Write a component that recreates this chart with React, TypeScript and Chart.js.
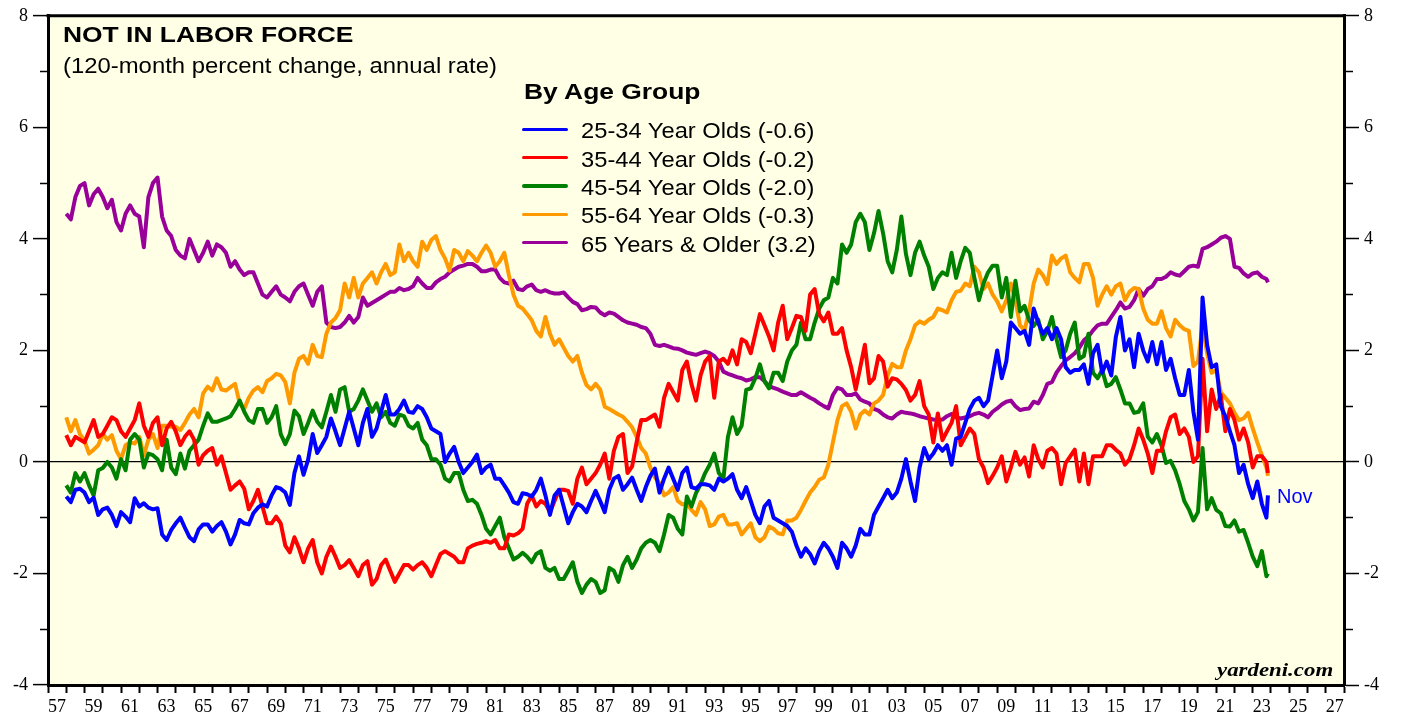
import { useEffect, useRef } from 'react';
import { Chart, registerables } from 'chart.js';

Chart.register(...registerables);

// Quarterly observations from Jan 1958, last point is Nov 2023
const FIRST_YEAR = 1958;
const QUARTER_COUNT = 264;
const DATES: number[] = [
  ...Array.from({ length: QUARTER_COUNT }, (_, i) => FIRST_YEAR + i / 4),
  2023 + 10 / 12,
];

const X_MIN = 1957;
const X_MAX = 2028;
const Y_MIN = -4;
const Y_MAX = 8;

const AGE_25_34 = [
  -0.62, -0.72, -0.5, -0.48, // 1958
  -0.55, -0.72, -0.64, -0.95,
  -0.85, -0.82, -0.95, -1.15, // 1960
  -0.9, -0.98, -1.08, -0.65,
  -0.8, -0.74, -0.82, -0.85,
  -0.83, -1.3, -1.4, -1.22,
  -1.1, -1.0, -1.18, -1.35,
  -1.42, -1.21, -1.12, -1.12, // 1965
  -1.25, -1.15, -1.08, -1.25,
  -1.48, -1.3, -1.04, -1.1,
  -1.12, -0.92, -0.82, -0.76,
  -0.8, -0.6, -0.45, -0.48,
  -0.55, -0.77, -0.2, 0.1, // 1970
  -0.23, 0.04, 0.5, 0.16,
  0.3, 0.45, 0.78, 0.55,
  0.3, 0.6, 0.9, 0.6,
  0.3, 0.7, 0.95, 0.45,
  0.6, 0.9, 1.2, 0.85, // 1975
  0.85, 0.95, 1.1, 0.9,
  0.88, 1.0, 0.95, 0.8,
  0.6, 0.55, 0.5, 0.0,
  0.15, 0.27, 0.0, -0.2,
  -0.1, 0.0, 0.13, -0.2, // 1980
  -0.1, -0.05, -0.3, -0.3,
  -0.42, -0.55, -0.72, -0.75,
  -0.56, -0.58, -0.62, -0.5,
  -0.3, -0.6, -0.95, -0.6,
  -0.5, -0.8, -1.1, -0.9, // 1985
  -0.75, -0.8, -0.9, -0.7,
  -0.52, -0.7, -0.9, -0.5,
  -0.3, -0.25, -0.5, -0.4,
  -0.28, -0.5, -0.7, -0.45,
  -0.25, -0.12, -0.55, -0.3, // 1990
  -0.1, -0.3, -0.5, -0.2,
  -0.1, -0.45, -0.48, -0.4,
  -0.4, -0.42, -0.5, -0.3,
  -0.35, -0.3, -0.22, -0.5,
  -0.65, -0.45, -0.7, -0.95, // 1995
  -1.1, -0.8, -0.7, -1.0,
  -1.05, -1.1, -1.15, -1.25,
  -1.5, -1.7, -1.55, -1.65,
  -1.82, -1.6, -1.45, -1.55,
  -1.7, -1.9, -1.45, -1.55, // 2000
  -1.7, -1.5, -1.2, -1.3,
  -1.3, -0.95, -0.8, -0.65,
  -0.5, -0.65, -0.55, -0.3,
  0.05, -0.35, -0.7, -0.1,
  0.25, 0.05, 0.15, 0.3, // 2005
  0.2, 0.3, -0.05, 0.42,
  0.45, 0.7, 0.95, 1.1,
  1.15, 1.0, 1.1, 1.55,
  2.0, 1.5, 1.8, 2.5,
  2.4, 2.3, 2.35, 2.1, // 2010
  2.75, 2.5, 2.3, 2.4,
  2.2, 2.4, 2.2, 1.7,
  1.6, 1.65, 1.65, 1.75,
  1.4, 1.95, 2.1, 1.6,
  1.8, 1.55, 2.24, 2.6, // 2015
  2.0, 2.2, 1.7, 2.3,
  2.0, 1.8, 2.15, 1.75,
  2.15, 1.65, 1.85, 1.5,
  1.2, 1.2, 1.65, 0.9,
  0.4, 2.95, 2.1, 1.7, // 2020
  1.75, 1.0, 0.82, 0.55,
  0.3, -0.2, -0.05, -0.4,
  -0.65, -0.35, -0.75, -1.0,
  -0.6, // Nov 2023
];

const AGE_35_44 = [
  0.48, 0.3, 0.45, 0.4, // 1958
  0.35, 0.55, 0.75, 0.45,
  0.5, 0.65, 0.8, 0.75, // 1960
  0.55, 0.45, 0.6, 0.75,
  1.05, 0.65, 0.45, 0.7,
  0.8, 0.3, 0.6, 0.72,
  0.55, 0.3, 0.45, 0.55,
  0.4, -0.05, 0.12, 0.2, // 1965
  0.25, -0.05, 0.1, -0.2,
  -0.5, -0.42, -0.35, -0.48,
  -0.85, -0.7, -0.5, -0.8,
  -1.1, -1.1, -0.98, -1.1,
  -1.5, -1.62, -1.35, -1.55, // 1970
  -1.8, -1.55, -1.4, -1.8,
  -2.0, -1.7, -1.52, -1.7,
  -1.9, -1.85, -1.76, -1.9,
  -2.05, -1.85, -1.78, -2.2,
  -2.1, -1.85, -1.75, -1.95, // 1975
  -2.15, -2.0, -1.85, -1.85,
  -1.93, -1.85, -1.8, -1.9,
  -2.05, -1.85, -1.65, -1.6,
  -1.65, -1.7, -1.8, -1.8,
  -1.55, -1.5, -1.47, -1.45, // 1980
  -1.42, -1.45, -1.4, -1.55,
  -1.55, -1.3, -1.32, -1.28,
  -1.2, -0.75, -0.6, -0.8,
  -0.7, -0.75, -0.9, -0.7,
  -0.5, -0.5, -0.52, -0.75, // 1985
  -0.3, -0.1, -0.4, -0.3,
  -0.2, -0.05, 0.15, -0.3,
  0.2, 0.45, 0.5, -0.2,
  -0.08, 0.36, 0.75, 0.75,
  0.8, 0.85, 0.63, 1.15, // 1990
  1.4, 1.25, 1.1, 1.65,
  1.8, 1.4, 1.1, 1.55,
  1.8, 1.9, 1.15, 1.8,
  1.85, 1.76, 2.0, 1.75,
  2.2, 2.15, 1.95, 2.3, // 1995
  2.65, 2.45, 2.25, 2.0,
  2.5, 2.8, 2.2, 2.4,
  2.62, 2.6, 2.35, 3.0,
  3.1, 2.65, 2.52, 2.68,
  2.3, 2.3, 2.4, 2.0, // 2000
  1.7, 1.3, 1.7, 2.1,
  1.41, 1.5, 1.9, 1.8,
  1.35, 1.5, 1.48, 1.4,
  1.29, 1.1, 1.2, 1.45,
  1.0, 0.85, 0.35, 0.87, // 2005
  0.39, 0.55, 0.7, 1.0,
  0.3, 0.45, 0.6, 0.5,
  0.05, -0.1, -0.38, -0.25,
  -0.1, 0.1, -0.35, -0.1,
  0.18, -0.05, 0.08, -0.26, // 2010
  0.3, 0.05, -0.1, 0.2,
  0.25, 0.15, -0.4, -0.02,
  0.1, 0.22, -0.35, 0.15,
  -0.4, 0.1, 0.1, 0.1,
  0.3, 0.3, 0.22, 0.15, // 2015
  -0.05, 0.05, 0.3, 0.6,
  0.4, 0.15, -0.2, 0.2,
  0.2, 0.55, 0.8, 0.85,
  0.5, 0.6, 0.45, 0.0,
  0.1, 1.85, 0.55, 1.3, // 2020
  0.95, 1.2, 0.55, 0.95,
  0.75, 0.4, 0.6, 0.35,
  -0.1, 0.1, 0.1, 0.0,
  -0.2, // Nov 2023
];

const AGE_45_54 = [
  -0.42, -0.55, -0.2, -0.35, // 1958
  -0.2, -0.42, -0.6, -0.15,
  -0.11, 0.0, -0.1, -0.3, // 1960
  0.05, -0.15, 0.4, 0.5,
  0.4, -0.1, 0.15, 0.12,
  0.05, -0.15, 0.4, -0.1,
  -0.22, 0.15, -0.12, 0.2,
  0.3, 0.4, 0.65, 0.87, // 1965
  0.72, 0.72, 0.75, 0.78,
  0.82, 0.95, 1.1, 0.9,
  0.75, 0.7, 0.95, 0.95,
  0.7, 0.8, 1.0, 0.5,
  0.32, 0.5, 0.92, 0.82, // 1970
  0.5, 0.7, 0.92, 0.72,
  0.62, 0.9, 1.2, 0.9,
  1.3, 1.34, 0.9, 0.95,
  1.1, 1.3, 1.1, 0.9,
  1.05, 0.8, 0.9, 0.7, // 1975
  0.65, 0.85, 0.82, 0.65,
  0.6, 0.7, 0.4, 0.3,
  0.05, 0.05, -0.05, -0.3,
  -0.35, -0.2, -0.2, -0.5,
  -0.7, -0.68, -0.75, -0.95, // 1980
  -1.2, -1.3, -1.15, -1.0,
  -1.35, -1.55, -1.75, -1.7,
  -1.63, -1.7, -1.8, -1.65,
  -1.6, -1.9, -1.95, -1.9,
  -2.1, -2.1, -1.95, -1.8, // 1985
  -2.15, -2.35, -2.2, -2.1,
  -2.15, -2.35, -2.3, -1.9,
  -1.95, -2.15, -1.85, -1.7,
  -1.9, -1.75, -1.55, -1.45,
  -1.4, -1.45, -1.6, -1.3, // 1990
  -0.95, -1.0, -1.2, -1.3,
  -0.62, -0.8, -0.56, -0.4,
  -0.2, -0.05, 0.15, -0.2,
  -0.3, 0.45, 0.8, 0.5,
  0.65, 1.29, 1.32, 1.5, // 1995
  1.75, 1.45, 1.32, 1.6,
  1.6, 1.45, 1.8, 2.0,
  2.1, 2.5, 2.2, 2.2,
  2.5, 2.75, 2.9, 2.95,
  3.3, 3.2, 3.9, 3.75, // 2000
  3.9, 4.3, 4.45, 4.3,
  3.8, 4.1, 4.5, 4.1,
  3.6, 3.4, 3.8, 4.4,
  3.73, 3.35, 3.75, 3.95,
  3.7, 3.5, 3.1, 3.3, // 2005
  3.4, 3.35, 3.75, 3.3,
  3.6, 3.84, 3.75, 3.3,
  2.9, 3.2, 3.4, 3.52,
  3.52, 2.95, 3.3, 2.6,
  3.25, 2.7, 2.8, 2.54, // 2010
  2.44, 2.55, 2.2, 2.35,
  2.6, 2.2, 1.88, 2.0,
  2.3, 2.5, 1.85, 1.9,
  2.3, 1.6, 1.5, 1.65,
  1.36, 1.4, 1.52, 1.3, // 2015
  1.05, 1.05, 0.88, 0.9,
  1.05, 0.45, 0.35, 0.5,
  0.3, -0.02, 0.02, -0.15,
  -0.4, -0.7, -0.85, -1.05,
  -0.9, 0.25, -0.85, -0.65, // 2020
  -0.86, -0.92, -1.15, -1.16,
  -1.05, -1.25, -1.22, -1.45,
  -1.7, -1.87, -1.6, -2.05,
  -2.0, // Nov 2023
];

const AGE_55_64 = [
  0.8, 0.55, 0.75, 0.5, // 1958
  0.38, 0.15, 0.22, 0.3,
  0.5, 0.4, 0.48, 0.2, // 1960
  0.05, 0.3, 0.35, 0.33,
  0.45, 0.12, 0.4, 0.5,
  0.25, 0.65, 0.65, 0.63,
  0.63, 0.57, 0.7, 0.85,
  0.95, 0.8, 1.23, 1.35, // 1965
  1.28, 1.5, 1.3, 1.28,
  1.34, 1.4, 1.05, 0.95,
  1.15, 1.28, 1.34, 1.25,
  1.45, 1.5, 1.58, 1.55,
  1.43, 1.05, 1.6, 1.85, // 1970
  1.9, 1.76, 2.1, 1.9,
  1.88, 2.3, 2.5, 2.58,
  2.72, 3.2, 2.95, 3.3,
  2.95, 3.2, 3.3, 3.4,
  3.2, 3.4, 3.55, 3.35, // 1975
  3.4, 3.9, 3.6, 3.75,
  3.6, 3.5, 3.95, 3.8,
  3.98, 4.05, 3.8, 3.65,
  3.43, 3.8, 3.75, 3.6,
  3.78, 3.7, 3.6, 3.75, // 1980
  3.88, 3.75, 3.5, 3.6,
  3.75, 3.35, 3.0, 2.8,
  2.75, 2.65, 2.54, 2.35,
  2.25, 2.6, 2.3, 2.1,
  2.2, 2.05, 1.9, 1.8, // 1985
  1.9, 1.6, 1.38, 1.3,
  1.4, 1.3, 0.99, 0.95,
  0.9, 0.85, 0.81, 0.72,
  0.62, 0.45, 0.25, 0.15,
  -0.1, -0.28, -0.38, -0.6, // 1990
  -0.55, -0.45, -0.7, -0.76,
  -0.75, -0.86, -0.95, -0.72,
  -0.85, -1.15, -1.12, -0.98,
  -0.95, -1.12, -1.12, -1.1,
  -1.3, -1.2, -1.1, -1.35, // 1995
  -1.42, -1.35, -1.16, -1.2,
  -1.28, -1.3, -1.05, -1.05,
  -1.0, -0.86, -0.7, -0.55,
  -0.45, -0.32, -0.28, -0.05,
  0.35, 0.75, 1.0, 1.05, // 2000
  0.9, 0.6, 0.85, 0.92,
  0.85, 1.05, 1.1, 1.2,
  1.55, 1.76, 1.7, 1.7,
  2.0, 2.2, 2.45, 2.52,
  2.48, 2.55, 2.6, 2.75, // 2005
  2.72, 2.68, 2.9, 3.05,
  3.07, 3.2, 3.15, 3.5,
  3.4, 3.1, 3.2, 3.0,
  2.88, 2.7, 2.9, 3.2,
  2.9, 2.45, 2.36, 2.71, // 2010
  3.2, 3.45, 3.35, 3.19,
  3.7, 3.55, 3.65, 3.7,
  3.4, 3.3, 3.22, 3.55,
  3.55, 3.3, 2.8, 3.0,
  3.15, 3.0, 3.15, 3.2, // 2015
  2.9, 3.05, 3.12, 3.1,
  2.75, 2.55, 2.48, 2.48,
  2.7, 2.4, 2.25, 2.55,
  2.45, 2.38, 2.35, 1.72,
  1.8, 2.45, 1.95, 1.6, // 2020
  1.65, 1.25, 1.15, 1.05,
  0.88, 0.75, 0.78, 0.88,
  0.6, 0.35, 0.12, -0.1,
  -0.25, // Nov 2023
];

const AGE_65_PLUS = [
  4.45, 4.35, 4.75, 4.95, // 1958
  5.0, 4.6, 4.8, 4.9,
  4.75, 4.55, 4.7, 4.3, // 1960
  4.15, 4.45, 4.6, 4.45,
  4.4, 3.85, 4.75, 5.0,
  5.1, 4.4, 4.15, 4.05,
  3.8, 3.7, 3.65, 4.0,
  3.8, 3.6, 3.75, 3.95, // 1965
  3.7, 3.9, 3.85, 3.75,
  3.5, 3.6, 3.45, 3.35,
  3.4, 3.4, 3.2, 3.0,
  2.95, 3.05, 3.15, 3.0,
  2.95, 2.88, 3.05, 3.15, // 1970
  3.2, 3.0, 2.8, 3.05,
  3.15, 2.5, 2.42, 2.4,
  2.42, 2.5, 2.62, 2.5,
  2.6, 2.95, 2.8, 2.85,
  2.9, 2.95, 3.0, 3.05, // 1975
  3.05, 3.12, 3.08, 3.1,
  3.15, 3.3, 3.2, 3.12,
  3.12, 3.22, 3.28, 3.32,
  3.4, 3.45, 3.5, 3.52,
  3.55, 3.55, 3.5, 3.42, // 1980
  3.42, 3.45, 3.45, 3.3,
  3.22, 3.2, 3.25, 3.1,
  3.08, 3.15, 3.18, 3.08,
  3.05, 3.08, 3.04, 3.02,
  3.02, 3.04, 2.95, 2.87, // 1985
  2.83, 2.72, 2.74, 2.78,
  2.77, 2.68, 2.63, 2.68,
  2.66, 2.6, 2.54, 2.5,
  2.48, 2.46, 2.42, 2.4,
  2.3, 2.1, 2.08, 2.1, // 1990
  2.07, 2.04, 2.03, 2.0,
  1.96, 1.94, 1.92, 1.95,
  1.98, 1.95, 1.9, 1.8,
  1.62, 1.58, 1.55, 1.52,
  1.5, 1.46, 1.48, 1.52, // 1995
  1.52, 1.45, 1.36, 1.33,
  1.3, 1.26, 1.23, 1.2,
  1.2, 1.25, 1.2, 1.15,
  1.11, 1.05, 1.0, 0.96,
  1.2, 1.33, 1.3, 1.2, // 2000
  1.2, 1.23, 1.12, 1.08,
  1.05, 0.95, 0.92, 0.85,
  0.8, 0.78, 0.85, 0.9,
  0.88, 0.87, 0.85, 0.82,
  0.8, 0.78, 0.76, 0.75, // 2005
  0.76, 0.82, 0.86, 0.8,
  0.78, 0.8, 0.82, 0.86,
  0.88, 0.85, 0.8, 0.9,
  0.96, 1.03, 1.08, 1.1,
  1.0, 0.93, 0.95, 0.96, // 2010
  1.08, 1.05, 1.2, 1.4,
  1.43, 1.6, 1.72, 1.82,
  1.88, 1.95, 2.05, 2.18,
  2.25, 2.36, 2.45, 2.48,
  2.48, 2.6, 2.72, 2.86, // 2015
  2.75, 2.78, 2.9, 3.1,
  2.98, 3.1, 3.15, 3.28,
  3.28, 3.32, 3.4, 3.36,
  3.34, 3.42, 3.5, 3.52,
  3.5, 3.82, 3.85, 3.9, // 2020
  3.95, 4.02, 4.05, 4.0,
  3.5, 3.48, 3.38, 3.32,
  3.38, 3.4, 3.32, 3.28,
  3.22, // Nov 2023
];

const SERIES_NAMES = [
  '25-34 Year Olds (-0.6)',
  '35-44 Year Olds (-0.2)',
  '45-54 Year Olds (-2.0)',
  '55-64 Year Olds (-0.3)',
  '65 Years & Older (3.2)',
];
const SERIES_VALUES = [AGE_25_34, AGE_35_44, AGE_45_54, AGE_55_64, AGE_65_PLUS];
const SERIES_COLORS = ['#0000FF', '#FF0000', '#008000', '#FF9900', '#990099'];

const TITLE = 'NOT IN LABOR FORCE';
const SUBTITLE = '(120-month percent change, annual rate)';
const LEGEND_TITLE = 'By Age Group';
const LAST_MONTH_LABEL = 'Nov';
const SOURCE = 'yardeni.com';

const PLOT_BG = '#FFFFE6';
const SANS = "'Liberation Sans', Arial, Helvetica, sans-serif";
const SERIF = "'Liberation Serif', 'Times New Roman', Times, serif";

const plotBackground = {
  id: 'plotBackground',
  beforeDraw(chart: any) {
    const { ctx, chartArea: a } = chart;
    ctx.save();
    ctx.fillStyle = PLOT_BG;
    ctx.fillRect(a.left, a.top, a.right - a.left, a.bottom - a.top);
    ctx.restore();
  },
  afterDraw(chart: any) {
    const { ctx, chartArea: a } = chart;
    ctx.save();
    ctx.strokeStyle = '#000';
    ctx.lineWidth = 3;
    ctx.beginPath();
    ctx.moveTo(a.left - 1.5, a.top);
    ctx.lineTo(a.right + 1.5, a.top);
    ctx.stroke();
    ctx.restore();
  },
};

const isOdd = (v: number) => Math.abs(Math.round(v)) % 2 === 1;

export default function App() {
  const canvasRef = useRef<HTMLCanvasElement>(null);

  useEffect(() => {
    if (!canvasRef.current) return;
    const yTicks = {
      stepSize: 1,
      autoSkip: false,
      color: '#000',
      padding: 5,
      font: { family: SERIF, size: 18 },
      callback: (v: any) => (isOdd(Number(v)) ? '' : String(v)),
    };
    const chart = new Chart(canvasRef.current, {
      type: 'line',
      data: {
        datasets: SERIES_VALUES.map((vals, i) => ({
          label: SERIES_NAMES[i],
          data: vals.map((v, j) => ({ x: DATES[j], y: v })),
          borderColor: SERIES_COLORS[i],
          backgroundColor: SERIES_COLORS[i],
          borderWidth: 4,
          pointRadius: 0,
          tension: 0,
          borderJoinStyle: 'round',
          fill: false,
          yAxisID: 'y',
        })),
      },
      options: {
        animation: false,
        responsive: false,
        maintainAspectRatio: false,
        layout: { padding: { top: 14, left: 0, right: 0, bottom: 0 } },
        plugins: {
          legend: { display: false },
          tooltip: { enabled: false },
          title: { display: false },
        },
        scales: {
          x: {
            type: 'linear',
            position: 'bottom',
            min: X_MIN,
            max: X_MAX,
            ticks: {
              stepSize: 1,
              autoSkip: false,
              maxRotation: 0,
              minRotation: 0,
              labelOffset: 9.1,
              padding: 3,
              color: '#000',
              font: { family: SERIF, size: 18 },
              callback: (v: any) => {
                const n = Math.round(Number(v));
                return isOdd(n) && n < X_MAX ? String(n % 100).padStart(2, '0') : '';
              },
            },
            grid: {
              drawOnChartArea: false,
              drawTicks: true,
              tickLength: 8,
              tickWidth: 2,
              tickColor: '#000',
            },
            border: { display: true, width: 3, color: '#000' },
            afterFit: (s: any) => {
              s.height = 34;
            },
          },
          y: {
            position: 'left',
            min: Y_MIN,
            max: Y_MAX,
            z: 1,
            ticks: yTicks,
            grid: {
              drawOnChartArea: true,
              drawTicks: true,
              color: (c: any) => (c.tick && c.tick.value === 0 ? '#000' : 'rgba(0,0,0,0)'),
              lineWidth: 1.2,
              tickLength: 15,
              tickWidth: 1.5,
              tickColor: '#000',
              tickBorderDash: (c: any) => (c.tick && isOdd(c.tick.value) ? [0, 7, 8, 100] : []),
            },
            border: { display: true, width: 3, color: '#000' },
            afterFit: (s: any) => {
              s.width = 48;
            },
          },
          y2: {
            position: 'right',
            min: Y_MIN,
            max: Y_MAX,
            z: 1,
            ticks: yTicks,
            grid: {
              drawOnChartArea: false,
              drawTicks: true,
              tickLength: 15,
              tickWidth: 1.5,
              tickColor: '#000',
              tickBorderDash: (c: any) => (c.tick && isOdd(c.tick.value) ? [7, 100] : []),
            },
            border: { display: true, width: 3, color: '#000' },
            afterFit: (s: any) => {
              s.width = 59;
            },
          },
        },
      },
      plugins: [plotBackground],
    } as any);
    return () => chart.destroy();
  }, []);

  const text = (
    left: number,
    top: number,
    size: number,
    opts: { bold?: boolean; italic?: boolean; scale?: number; color?: string; family?: string } = {}
  ): React.CSSProperties => ({
    position: 'absolute',
    left,
    top,
    fontFamily: opts.family || SANS,
    fontSize: size,
    fontWeight: opts.bold ? 'bold' : 'normal',
    fontStyle: opts.italic ? 'italic' : 'normal',
    lineHeight: 1,
    whiteSpace: 'nowrap',
    color: opts.color || '#000',
    transform: `scaleX(${opts.scale || 1})`,
    transformOrigin: 'left top',
  });

  return (
    <div
      style={{
        position: 'fixed',
        left: 0,
        top: 0,
        width: 1403,
        height: 719,
        background: '#fff',
        overflow: 'hidden',
      }}
    >
      <canvas
        ref={canvasRef}
        width={1403}
        height={719}
        style={{ position: 'absolute', left: 0, top: 0, width: 1403, height: 719 }}
      />
      <div style={text(63, 24.4, 22, { bold: true, scale: 1.2 })}>{TITLE}</div>
      <div style={text(63, 54.6, 22, { scale: 1.085 })}>{SUBTITLE}</div>
      <div style={text(524, 81, 22, { bold: true, scale: 1.2 })}>{LEGEND_TITLE}</div>
      {SERIES_NAMES.map((name, i) => (
        <div key={name}>
          <div
            style={{
              position: 'absolute',
              left: 522,
              width: 46,
              top: 129.3 + 28.33 * i - 1.75,
              height: 3.5,
              borderRadius: 2,
              background: SERIES_COLORS[i],
            }}
          />
          <div style={text(581, 139 + 28.33 * i - 18.6, 22, { scale: 1.078 })}>{name}</div>
        </div>
      ))}
      <div style={text(1277, 485.8, 20, { color: '#0000FF' })}>{LAST_MONTH_LABEL}</div>
      <div style={text(1217, 661, 18, { bold: true, italic: true, scale: 1.27, family: SERIF })}>
        {SOURCE}
      </div>
    </div>
  );
}
